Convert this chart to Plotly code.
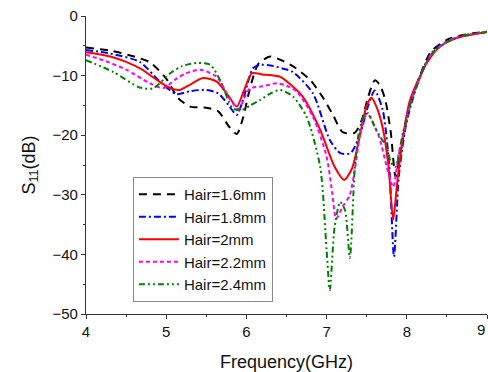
import plotly.graph_objects as go

labels = ["Hair=1.6mm", "Hair=1.8mm", "Hair=2mm", "Hair=2.2mm", "Hair=2.4mm"]
x_ticks = [4, 5, 6, 7, 8, 9]
y_ticks = [0, -10, -20, -30, -40, -50]

f_16 = [4.0,4.3,4.6,4.8,5.0,5.15,5.3,5.5,5.65,5.78,5.88,5.96,6.04,6.15,6.3,6.45,6.6,6.8,6.95,7.08,7.2,7.35,7.44,7.52,7.6,7.66,7.73,7.8,7.86,7.92,7.98,8.05,8.15,8.3,8.5,8.7,9.0]
s_16 = [-5.3,-5.8,-6.8,-7.8,-10.5,-13.8,-15.2,-15.4,-16.0,-18.5,-19.8,-17.0,-12.4,-8.0,-6.8,-7.5,-8.6,-10.8,-13.6,-16.6,-19.5,-19.6,-17.4,-13.5,-10.8,-11.5,-14.0,-19.5,-27.0,-23.0,-18.5,-14.5,-10.5,-6.0,-4.0,-3.2,-2.6]

f_18 = [4.0,4.3,4.67,4.92,5.13,5.3,5.5,5.65,5.78,5.88,5.97,6.08,6.17,6.3,6.45,6.58,6.83,7.04,7.17,7.3,7.42,7.52,7.6,7.7,7.78,7.84,7.9,7.98,8.05,8.15,8.3,8.5,8.7,9.0]
s_18 = [-5.7,-6.3,-7.7,-11.0,-13.1,-12.6,-12.4,-13.0,-15.0,-16.6,-13.5,-8.8,-8.2,-8.3,-8.8,-9.4,-13.0,-20.8,-23.0,-23.0,-19.7,-15.0,-12.5,-15.8,-25.0,-40.4,-27.0,-19.0,-15.0,-10.8,-6.3,-4.3,-3.3,-2.7]

f_20 = [4.0,4.3,4.5,4.7,4.88,5.05,5.17,5.3,5.46,5.63,5.78,5.88,5.97,6.07,6.2,6.42,6.55,6.7,6.92,7.1,7.22,7.32,7.42,7.5,7.56,7.63,7.7,7.77,7.83,7.88,7.95,8.04,8.15,8.25,8.4,8.6,9.0]
s_20 = [-6.1,-6.8,-7.7,-9.0,-10.7,-12.1,-12.4,-11.5,-10.4,-11.0,-13.5,-15.2,-12.5,-9.6,-9.8,-10.2,-11.5,-13.5,-19.1,-25.3,-27.5,-25.5,-19.7,-15.0,-13.7,-15.5,-18.8,-25.0,-34.2,-28.0,-20.5,-14.1,-10.5,-7.9,-5.3,-3.8,-2.7]

f_22 = [4.0,4.25,4.5,4.8,4.96,5.13,5.25,5.42,5.63,5.8,5.9,6.04,6.2,6.38,6.5,6.63,6.83,7.0,7.07,7.12,7.2,7.29,7.36,7.42,7.47,7.52,7.58,7.66,7.75,7.83,7.9,7.98,8.05,8.15,8.3,8.5,8.7,9.0]
s_22 = [-6.5,-7.6,-9.0,-11.3,-12.1,-10.5,-9.6,-9.0,-10.2,-14.1,-15.6,-12.2,-11.8,-11.3,-11.7,-12.7,-16.9,-23.6,-29.7,-34.0,-32.0,-30.0,-25.0,-19.5,-17.0,-16.6,-18.0,-20.5,-25.3,-28.7,-23.0,-18.5,-14.5,-10.8,-6.5,-4.3,-3.3,-2.7]

f_24 = [4.0,4.34,4.67,4.84,5.05,5.2,5.38,5.55,5.67,5.83,5.94,6.05,6.17,6.3,6.42,6.58,6.75,6.92,7.0,7.04,7.1,7.17,7.23,7.29,7.35,7.4,7.46,7.52,7.6,7.68,7.75,7.8,7.86,7.95,8.05,8.15,8.3,8.5,8.7,9.0]
s_24 = [-7.4,-9.4,-12.0,-12.1,-9.6,-8.4,-7.9,-8.2,-10.7,-15.5,-15.8,-15.0,-14.1,-13.0,-12.4,-13.5,-16.9,-25.3,-39.3,-46.0,-35.4,-31.2,-32.6,-40.6,-25.8,-19.7,-17.0,-16.3,-18.6,-20.5,-22.0,-24.5,-25.3,-19.7,-14.5,-10.8,-6.5,-4.4,-3.3,-2.7]

xs = [f_16, f_18, f_20, f_22, f_24]
ys = [s_16, s_18, s_20, s_22, s_24]
colors = ["#000000", "#0000ff", "#ff0000", "#ff00ff", "#008000"]
dashes = ["8px,6px", "7px,3px,2px,3px", "solid", "4px,3px", "6px,3px,2px,3px,2px,3px"]

fig = go.Figure()
for x, y, lab, c, d in zip(xs, ys, labels, colors, dashes):
    fig.add_trace(go.Scatter(x=x, y=y, mode="lines", name=lab,
                             line=dict(color=c, width=2, dash=d, shape="spline", smoothing=0.7)))

axis_common = dict(showline=True, linecolor="#333", linewidth=1.2, ticks="outside",
                   ticklen=4, tickcolor="#333", showgrid=False, zeroline=False, mirror=False,
                   tickfont=dict(size=15, color="#111"))

fig.update_layout(
    width=488, height=372,
    margin=dict(l=86, r=1, t=16, b=58),
    paper_bgcolor="white", plot_bgcolor="white",
    font=dict(family="Liberation Sans, Arial, sans-serif", color="#111"),
    xaxis=dict(range=[x_ticks[0], x_ticks[-1]], tickvals=x_ticks,
               minor=dict(dtick=0.5, ticks="outside", ticklen=2, tickcolor="#333"),
               title=dict(text="Frequency(GHz)", font=dict(size=18), standoff=18),
               **axis_common),
    yaxis=dict(range=[y_ticks[-1], y_ticks[0]], tickvals=y_ticks,
               minor=dict(dtick=5, ticks="outside", ticklen=2, tickcolor="#333"),
               title=dict(text="S<sub>11</sub>(dB)", font=dict(size=18), standoff=12),
               **axis_common),
    legend=dict(x=0.117, y=0.46, xanchor="left", yanchor="top",
                bordercolor="#888", borderwidth=1, bgcolor="white",
                font=dict(size=15), tracegroupgap=0, itemwidth=40),
    showlegend=True,
)

# last x tick label sits at the right edge of the page
fig.add_annotation(x=x_ticks[-1], xref="x", y=0, yref="paper", yanchor="top",
                   xanchor="right", yshift=-5, text=str(x_ticks[-1]),
                   showarrow=False, font=dict(size=15, color="#111"))

fig.write_html("out.html")
